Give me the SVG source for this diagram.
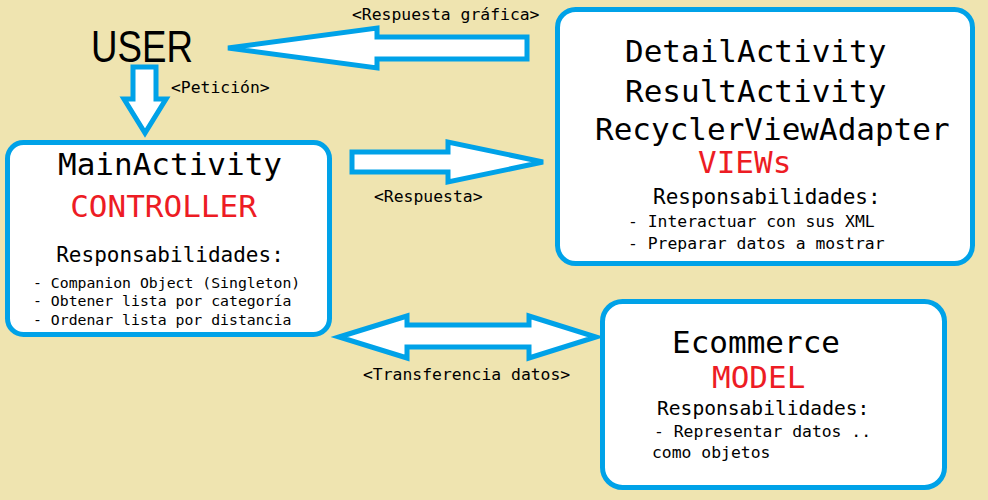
<svg xmlns="http://www.w3.org/2000/svg" width="988" height="500" viewBox="0 0 988 500">
<style>
.bg{fill:#EFE4B0}
.box{fill:#FFFFFF;stroke:#00A2E8;stroke-width:5}
.arr{fill:#FFFFFF;stroke:#00A2E8;stroke-width:5;stroke-linejoin:miter}
.m{font-family:"DejaVu Sans Mono","Liberation Mono",monospace;fill:#000}
.big{font-size:31px}
.red{fill:#ED1C24}
.resp{font-size:21px}
.sm{font-size:16.4px}
.xs{font-size:14.8px}
</style>
<rect class="bg" x="0" y="0" width="988" height="500"/>
<g id="connectors">
<polygon class="arr" points="228,48 377,28 377,37 527,37 527,59 377,59 377,68"/>
<polygon class="arr" points="133,67 156,67 156,99 166,99 145,133 124,99 133,99"/>
<polygon class="arr" points="352,152 448,152 448,142 543,162 448,182 448,172 352,172"/>
<polygon class="arr" points="339,337 407,316 407,325 529,325 529,316 596,337 529,358 529,347 407,347 407,358"/>
<text class="m sm" x="352" y="20">&lt;Respuesta gráfica&gt;</text>
<text class="m sm" x="171" y="93">&lt;Petición&gt;</text>
<text class="m sm" x="374" y="202">&lt;Respuesta&gt;</text>
<text class="m sm" x="363" y="380">&lt;Transferencia datos&gt;</text>
</g>
<g id="user">
<text x="91" y="62" font-family="Liberation Sans, Arial, sans-serif" font-size="44" textLength="102" lengthAdjust="spacingAndGlyphs" fill="#000">USER</text>
</g>
<g id="controller">
<rect class="box" x="7.5" y="142.5" width="322" height="192" rx="16"/>
<text class="m big" x="170" y="175" text-anchor="middle">MainActivity</text>
<text class="m big red" x="163.5" y="217" text-anchor="middle">CONTROLLER</text>
<text class="m resp" x="170" y="262" text-anchor="middle">Responsabilidades:</text>
<text class="m xs" x="33" y="288">- Companion Object (Singleton)</text>
<text class="m xs" x="33" y="306">- Obtener lista por categoría</text>
<text class="m xs" x="33" y="325">- Ordenar lista por distancia</text>
</g>
<g id="views">
<rect class="box" x="557.5" y="9.5" width="415" height="254" rx="18"/>
<text class="m big" x="625" y="62">DetailActivity</text>
<text class="m big" x="625" y="102">ResultActivity</text>
<text class="m big" x="595" y="140">RecyclerViewAdapter</text>
<text class="m big red" x="698" y="173">VIEWs</text>
<text class="m resp" x="653" y="204">Responsabilidades:</text>
<text class="m sm" x="628" y="227">- Interactuar con sus XML</text>
<text class="m sm" x="628" y="249">- Preparar datos a mostrar</text>
</g>
<g id="model">
<rect class="box" x="602.5" y="301.5" width="342" height="186" rx="20"/>
<text class="m big" x="672" y="353">Ecommerce</text>
<text class="m big red" x="712" y="388">MODEL</text>
<text class="m" x="657" y="415" font-size="19.6">Responsabilidades:</text>
<text class="m sm" x="654" y="437">- Representar datos ..</text>
<text class="m sm" x="652" y="458">como objetos</text>
</g>
</svg>
